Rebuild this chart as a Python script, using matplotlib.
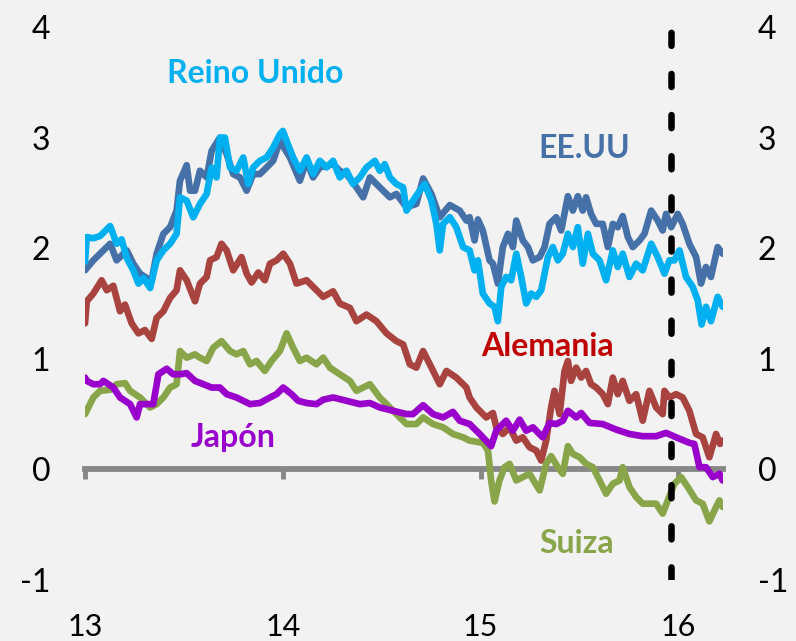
import matplotlib
matplotlib.use("Agg")
import matplotlib.pyplot as plt

plt.rcParams['font.family'] = ['Lato', 'DejaVu Sans']
plt.rcParams['axes.unicode_minus'] = False

# ---------------- data (10-year yields, %) ----------------
uk_t = [2013.000, 2013.009, 2013.042, 2013.076, 2013.127, 2013.160, 2013.185, 2013.211, 2013.244, 2013.270,
        2013.295, 2013.329, 2013.362, 2013.396, 2013.430, 2013.463, 2013.480, 2013.514, 2013.547, 2013.581,
        2013.615, 2013.640, 2013.665, 2013.682, 2013.707, 2013.733, 2013.766, 2013.800, 2013.825, 2013.850,
        2013.884, 2013.918, 2013.951, 2013.985, 2014.000, 2014.019, 2014.052, 2014.086, 2014.120, 2014.153,
        2014.187, 2014.221, 2014.254, 2014.288, 2014.322, 2014.355, 2014.389, 2014.423, 2014.465, 2014.490,
        2014.515, 2014.541, 2014.574, 2014.608, 2014.625, 2014.658, 2014.692, 2014.717, 2014.751, 2014.776,
        2014.793, 2014.810, 2014.844, 2014.877, 2014.911, 2014.944, 2014.969, 2014.986, 2015.011, 2015.045,
        2015.070, 2015.087, 2015.104, 2015.129, 2015.154, 2015.180, 2015.205, 2015.230, 2015.255, 2015.281,
        2015.306, 2015.340, 2015.365, 2015.390, 2015.415, 2015.441, 2015.466, 2015.491, 2015.516, 2015.542,
        2015.567, 2015.601, 2015.634, 2015.668, 2015.693, 2015.718, 2015.752, 2015.786, 2015.819, 2015.862,
        2015.895, 2015.929, 2015.954, 2015.979, 2016.005, 2016.038, 2016.072, 2016.097, 2016.117, 2016.139,
        2016.164, 2016.198, 2016.223]
uk_v = [1.88, 2.10, 2.09, 2.11, 2.20, 2.04, 2.08, 1.91, 1.80, 1.68,
        1.73, 1.64, 1.89, 1.98, 2.04, 2.13, 2.46, 2.43, 2.28, 2.40,
        2.49, 2.73, 2.64, 3.00, 3.00, 2.73, 2.70, 2.82, 2.58, 2.73,
        2.79, 2.82, 2.91, 3.03, 3.06, 2.97, 2.82, 2.70, 2.82, 2.67,
        2.79, 2.73, 2.79, 2.64, 2.70, 2.58, 2.64, 2.73, 2.79, 2.70,
        2.76, 2.64, 2.58, 2.55, 2.34, 2.43, 2.52, 2.58, 2.43, 2.22,
        1.98, 2.22, 2.28, 2.19, 2.01, 1.98, 1.80, 1.89, 1.59, 1.50,
        1.47, 1.34, 1.65, 1.74, 1.71, 1.95, 1.74, 1.50, 1.59, 1.56,
        1.62, 1.92, 2.01, 1.89, 1.95, 2.13, 2.01, 2.19, 1.86, 2.13,
        1.95, 1.89, 1.71, 1.98, 1.83, 1.95, 1.74, 1.86, 1.80, 2.04,
        1.92, 1.77, 1.89, 1.89, 1.98, 1.74, 1.65, 1.53, 1.31, 1.47,
        1.34, 1.56, 1.47]

us_t = [2013.000, 2013.042, 2013.076, 2013.127, 2013.160, 2013.211, 2013.244, 2013.278, 2013.312, 2013.337,
        2013.362, 2013.396, 2013.430, 2013.463, 2013.480, 2013.514, 2013.531, 2013.556, 2013.581, 2013.615,
        2013.640, 2013.682, 2013.716, 2013.749, 2013.783, 2013.817, 2013.850, 2013.884, 2013.918, 2013.951,
        2013.985, 2014.036, 2014.086, 2014.120, 2014.153, 2014.187, 2014.254, 2014.288, 2014.322, 2014.372,
        2014.406, 2014.440, 2014.490, 2014.541, 2014.574, 2014.625, 2014.675, 2014.709, 2014.751, 2014.793,
        2014.844, 2014.894, 2014.928, 2014.944, 2014.969, 2014.986, 2015.011, 2015.045, 2015.062, 2015.087,
        2015.112, 2015.138, 2015.163, 2015.180, 2015.213, 2015.239, 2015.264, 2015.298, 2015.323, 2015.348,
        2015.382, 2015.407, 2015.441, 2015.466, 2015.491, 2015.516, 2015.533, 2015.558, 2015.584, 2015.617,
        2015.643, 2015.668, 2015.693, 2015.718, 2015.744, 2015.769, 2015.803, 2015.828, 2015.862, 2015.895,
        2015.920, 2015.937, 2015.963, 2015.996, 2016.021, 2016.055, 2016.089, 2016.114, 2016.139, 2016.164,
        2016.198, 2016.223]
us_v = [1.80, 1.89, 1.95, 2.04, 1.89, 1.98, 1.86, 1.77, 1.73, 1.71,
        1.95, 2.13, 2.19, 2.34, 2.61, 2.75, 2.52, 2.52, 2.70, 2.64,
        2.88, 3.00, 2.85, 2.67, 2.64, 2.52, 2.67, 2.67, 2.73, 2.79,
        2.97, 2.82, 2.61, 2.79, 2.64, 2.73, 2.76, 2.70, 2.67, 2.55,
        2.46, 2.64, 2.55, 2.46, 2.49, 2.37, 2.40, 2.63, 2.49, 2.28,
        2.39, 2.34, 2.25, 2.28, 2.07, 2.26, 2.16, 1.89, 1.86, 1.68,
        2.01, 2.13, 2.01, 2.25, 2.07, 2.01, 1.89, 1.92, 2.01, 2.22,
        2.28, 2.16, 2.47, 2.34, 2.47, 2.34, 2.46, 2.31, 2.22, 2.22,
        2.01, 2.22, 2.19, 2.29, 2.10, 2.01, 2.07, 2.13, 2.34, 2.25,
        2.16, 2.31, 2.19, 2.31, 2.22, 2.04, 1.92, 1.68, 1.83, 1.74,
        2.01, 1.95]

de_t = [2013.000, 2013.009, 2013.042, 2013.084, 2013.110, 2013.143, 2013.177, 2013.202, 2013.236, 2013.270,
        2013.303, 2013.337, 2013.362, 2013.396, 2013.430, 2013.463, 2013.480, 2013.514, 2013.556, 2013.581,
        2013.615, 2013.632, 2013.665, 2013.690, 2013.716, 2013.749, 2013.791, 2013.817, 2013.842, 2013.876,
        2013.909, 2013.935, 2013.968, 2014.002, 2014.036, 2014.069, 2014.120, 2014.170, 2014.204, 2014.254,
        2014.288, 2014.339, 2014.372, 2014.423, 2014.473, 2014.524, 2014.574, 2014.608, 2014.642, 2014.675,
        2014.709, 2014.743, 2014.793, 2014.827, 2014.877, 2014.928, 2014.944, 2014.978, 2015.028, 2015.062,
        2015.079, 2015.112, 2015.146, 2015.180, 2015.213, 2015.247, 2015.281, 2015.306, 2015.331, 2015.356,
        2015.373, 2015.399, 2015.424, 2015.441, 2015.457, 2015.483, 2015.508, 2015.533, 2015.558, 2015.584,
        2015.617, 2015.643, 2015.668, 2015.693, 2015.718, 2015.752, 2015.786, 2015.819, 2015.853, 2015.887,
        2015.920, 2015.929, 2015.954, 2015.988, 2016.021, 2016.055, 2016.089, 2016.122, 2016.156, 2016.190,
        2016.210, 2016.223]
de_v = [1.32, 1.52, 1.59, 1.71, 1.62, 1.66, 1.43, 1.49, 1.32, 1.23,
        1.26, 1.18, 1.37, 1.43, 1.55, 1.62, 1.80, 1.71, 1.52, 1.68,
        1.74, 1.89, 1.92, 2.04, 1.98, 1.80, 1.92, 1.77, 1.69, 1.78,
        1.71, 1.86, 1.89, 1.95, 1.86, 1.68, 1.71, 1.62, 1.56, 1.61,
        1.50, 1.46, 1.34, 1.40, 1.34, 1.23, 1.16, 1.13, 0.95, 0.92,
        1.07, 0.95, 0.77, 0.89, 0.83, 0.74, 0.65, 0.56, 0.47, 0.51,
        0.38, 0.32, 0.38, 0.26, 0.29, 0.20, 0.17, 0.08, 0.26, 0.56,
        0.71, 0.50, 0.89, 0.98, 0.80, 0.92, 0.83, 0.89, 0.77, 0.74,
        0.68, 0.59, 0.83, 0.68, 0.80, 0.62, 0.68, 0.44, 0.71, 0.56,
        0.50, 0.71, 0.65, 0.68, 0.65, 0.53, 0.32, 0.29, 0.11, 0.32,
        0.23, 0.26]

ch_t = [2013.000, 2013.042, 2013.076, 2013.127, 2013.160, 2013.202, 2013.228, 2013.278, 2013.329, 2013.362,
        2013.396, 2013.430, 2013.463, 2013.480, 2013.514, 2013.556, 2013.581, 2013.615, 2013.648, 2013.690,
        2013.733, 2013.766, 2013.800, 2013.834, 2013.867, 2013.909, 2013.943, 2013.985, 2014.019, 2014.052,
        2014.086, 2014.120, 2014.170, 2014.204, 2014.238, 2014.288, 2014.339, 2014.372, 2014.406, 2014.440,
        2014.490, 2014.541, 2014.591, 2014.625, 2014.675, 2014.709, 2014.759, 2014.810, 2014.860, 2014.911,
        2014.944, 2015.011, 2015.037, 2015.053, 2015.070, 2015.095, 2015.121, 2015.146, 2015.180, 2015.213,
        2015.247, 2015.298, 2015.331, 2015.356, 2015.390, 2015.415, 2015.441, 2015.466, 2015.500, 2015.533,
        2015.567, 2015.601, 2015.634, 2015.668, 2015.702, 2015.718, 2015.752, 2015.786, 2015.819, 2015.853,
        2015.887, 2015.920, 2015.946, 2015.979, 2016.013, 2016.047, 2016.089, 2016.122, 2016.156, 2016.190,
        2016.207, 2016.223]
ch_v = [0.50, 0.65, 0.71, 0.72, 0.77, 0.78, 0.71, 0.65, 0.56, 0.59,
        0.65, 0.74, 0.77, 1.07, 1.01, 1.04, 1.01, 0.98, 1.10, 1.16,
        1.07, 1.04, 1.07, 0.95, 0.98, 0.89, 0.98, 1.07, 1.23, 1.10,
        0.98, 1.01, 0.95, 1.01, 0.92, 0.86, 0.80, 0.71, 0.74, 0.77,
        0.65, 0.56, 0.47, 0.41, 0.41, 0.47, 0.41, 0.38, 0.32, 0.29,
        0.26, 0.24, 0.17, -0.10, -0.29, -0.10, 0.02, 0.05, -0.10, -0.07,
        -0.04, -0.19, 0.05, 0.12, 0.02, -0.04, 0.21, 0.14, 0.11, 0.05,
        0.02, -0.10, -0.22, -0.13, -0.10, 0.02, -0.16, -0.25, -0.31, -0.31,
        -0.31, -0.40, -0.28, -0.13, -0.07, -0.16, -0.28, -0.31, -0.47, -0.34,
        -0.28, -0.34]

jp_t = [2013.000, 2013.009, 2013.042, 2013.076, 2013.093, 2013.143, 2013.177, 2013.228, 2013.261, 2013.278,
        2013.312, 2013.345, 2013.371, 2013.413, 2013.446, 2013.480, 2013.514, 2013.556, 2013.598, 2013.640,
        2013.682, 2013.716, 2013.766, 2013.800, 2013.834, 2013.884, 2013.935, 2013.968, 2014.002, 2014.044,
        2014.078, 2014.120, 2014.170, 2014.204, 2014.254, 2014.322, 2014.389, 2014.440, 2014.490, 2014.557,
        2014.625, 2014.658, 2014.709, 2014.759, 2014.810, 2014.860, 2014.894, 2014.944, 2014.995, 2015.053,
        2015.079, 2015.129, 2015.163, 2015.197, 2015.230, 2015.264, 2015.314, 2015.348, 2015.382, 2015.415,
        2015.441, 2015.483, 2015.508, 2015.550, 2015.617, 2015.685, 2015.752, 2015.819, 2015.887, 2015.937,
        2015.988, 2016.055, 2016.080, 2016.106, 2016.139, 2016.173, 2016.207, 2016.223]
jp_v = [0.83, 0.80, 0.77, 0.77, 0.80, 0.74, 0.65, 0.59, 0.47, 0.59,
        0.59, 0.59, 0.86, 0.91, 0.86, 0.86, 0.87, 0.80, 0.77, 0.74,
        0.74, 0.68, 0.65, 0.62, 0.59, 0.60, 0.65, 0.68, 0.74, 0.68,
        0.62, 0.60, 0.59, 0.63, 0.65, 0.62, 0.59, 0.60, 0.56, 0.53,
        0.50, 0.50, 0.58, 0.50, 0.47, 0.52, 0.44, 0.41, 0.32, 0.21,
        0.35, 0.44, 0.35, 0.45, 0.35, 0.38, 0.29, 0.42, 0.41, 0.44,
        0.53, 0.47, 0.51, 0.42, 0.41, 0.36, 0.32, 0.30, 0.30, 0.33,
        0.29, 0.24, 0.23, 0.02, 0.02, -0.07, -0.04, -0.10]

year_ticks = [2013, 2014, 2015, 2016]
year_labels = ["13", "14", "15", "16"]
y_ticks = [-1, 0, 1, 2, 3, 4]
event_date = 2015.96

# ---------------- style ----------------
BG = "#F2F2F2"
C_UK = "#00B0F0"
C_US = "#4571A8"
C_DE = "#A8433F"
C_DE_LBL = "#C00000"
C_CH = "#88A54A"
C_JP = "#9900CC"
GRAY = "#878787"

fig = plt.figure(figsize=(7.96, 6.41), dpi=100, facecolor=BG)
ax = fig.add_axes([0.1068, 0.0952, 0.8015, 0.8627])
ax.set_facecolor(BG)

LW = 4.8
kw = dict(lw=LW, solid_joinstyle='round', solid_capstyle='round')
ax.plot(us_t, us_v, color=C_US, zorder=3, **kw)
ax.plot(uk_t, uk_v, color=C_UK, zorder=4, **kw)
ax.plot(de_t, de_v, color=C_DE, zorder=3, **kw)
ax.plot(ch_t, ch_v, color=C_CH, zorder=3, **kw)
ax.plot(jp_t, jp_v, color=C_JP, zorder=5, **kw)

ax.axvline(event_date, color="black", lw=4.7, linestyle=(0, (2.0, 4.3)),
           dash_capstyle='round', zorder=6)

ax.set_xlim(2013.0, 2016.225)
ax.set_ylim(-1, 4)

# zero axis line with year tick marks
for s in ['top', 'right', 'left']:
    ax.spines[s].set_visible(False)
ax.spines['bottom'].set_position(('data', 0))
ax.spines['bottom'].set_color(GRAY)
ax.spines['bottom'].set_linewidth(4.2)
ax.spines['bottom'].set_zorder(2)
ax.set_xticks(year_ticks)
ax.tick_params(axis='x', direction='out', length=7, width=3.5, color=GRAY, labelbottom=False)

# year labels below plot area
sec = ax.secondary_xaxis('bottom')
sec.spines['bottom'].set_visible(False)
sec.set_xticks(year_ticks)
sec.set_xticklabels(year_labels)
sec.tick_params(axis='x', length=0, pad=24, labelsize=22)

ax.set_yticks(y_ticks)
ax.set_yticklabels([str(v) for v in y_ticks])
ax.tick_params(axis='y', length=0, labelleft=True, labelright=True, pad=25, labelsize=23)

# series labels
lbl = dict(fontsize=23, fontweight='bold', ha='center', va='center')
ax.text(2013.859, 3.58, "Reino Unido", color=C_UK, **lbl)
ax.text(2015.525, 2.90, "EE.UU", color=C_US, **lbl)
ax.text(2015.338, 1.11, "Alemania", color=C_DE_LBL, **lbl)
ax.text(2013.747, 0.29, "Japón", color=C_JP, **lbl)
ax.text(2015.485, -0.67, "Suiza", color=C_CH, **lbl)

fig.savefig("out.png", dpi=100, facecolor=BG)
